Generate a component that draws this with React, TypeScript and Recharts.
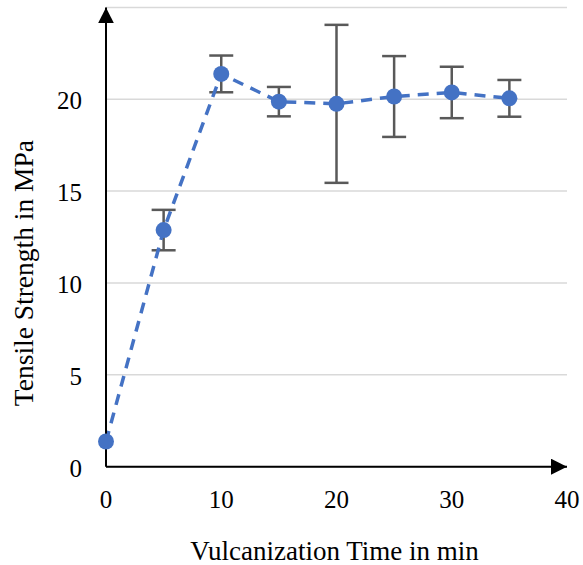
import React from "react";
import { LineChart, Line, XAxis, YAxis, CartesianGrid, ErrorBar, Label } from "recharts";

const times = [0, 5, 10, 15, 20, 25, 30, 35];
const strength = [1.37, 12.88, 21.38, 19.87, 19.75, 20.15, 20.37, 20.05];
const stdDev = [0, 1.1, 1.0, 0.8, 4.3, 2.2, 1.4, 1.0];
const xTicks = [0, 10, 20, 30, 40];
const yTicks = [0, 5, 10, 15, 20];

const data = times.map((t, i) => ({ time: t, strength: strength[i], err: stdDev[i] }));

const FONT = "'Liberation Serif', 'Times New Roman', serif";
const TICK_SIZE = 25;

const XTick = (props: any) => {
  const { x, y, payload } = props;
  return (
    <text x={x} y={y} dy={18} textAnchor="middle" fontFamily={FONT} fontSize={TICK_SIZE} fill="#000">
      {payload.value}
    </text>
  );
};

const YTick = (props: any) => {
  const { x, y, payload } = props;
  return (
    <text x={x} y={y} dy={10} textAnchor="end" fontFamily={FONT} fontSize={TICK_SIZE} fill="#000">
      {payload.value}
    </text>
  );
};

const YTitle = (props: any) => {
  const vb = props.viewBox || {};
  return (
    <text
      x={0}
      y={0}
      transform={`translate(${vb.x + 33}, ${vb.y + vb.height / 2 + 36}) rotate(-90)`}
      textAnchor="middle"
      fontFamily={FONT}
      fontSize={27.5}
      fill="#000"
    >
      Tensile Strength in MPa
    </text>
  );
};

const XTitle = (props: any) => {
  const vb = props.viewBox || {};
  return (
    <text
      x={vb.x + vb.width / 2 - 2}
      y={vb.y + vb.height - 5}
      textAnchor="middle"
      fontFamily={FONT}
      fontSize={27}
      fill="#000"
    >
      Vulcanization Time in min
    </text>
  );
};

export default function App() {
  return (
    <div style={{ position: "absolute", left: 0, top: 0, fontFamily: FONT }}>
      <LineChart
        width={583}
        height={565}
        data={data}
        margin={{ top: 7.4, right: 16, bottom: 0, left: 0 }}
      >
        <defs>
          <marker
            id="arrowHead"
            viewBox="0 0 10 10"
            refX="10"
            refY="5"
            markerUnits="userSpaceOnUse"
            markerWidth="16"
            markerHeight="16"
            orient="auto-start-reverse"
          >
            <path d="M0,0 L10,5 L0,10 z" fill="#000" />
          </marker>
        </defs>
        <CartesianGrid vertical={false} stroke="#D9D9D9" strokeWidth={1.5} />
        <XAxis
          dataKey="time"
          type="number"
          domain={[0, 40]}
          ticks={xTicks}
          height={98.3}
          tickLine={false}
          tickSize={0}
          tickMargin={23}
          axisLine={{ stroke: "#000", strokeWidth: 2, markerEnd: "url(#arrowHead)" }}
          tick={<XTick />}
          interval={0}
        >
          <Label content={<XTitle />} />
        </XAxis>
        <YAxis
          type="number"
          domain={[0, 25]}
          ticks={yTicks}
          width={106}
          tickLine={false}
          tickSize={0}
          tickMargin={24}
          axisLine={{ stroke: "#000", strokeWidth: 2, markerStart: "url(#arrowHead)" }}
          tick={<YTick />}
          interval={0}
        >
          <Label content={<YTitle />} />
        </YAxis>
        <Line
          dataKey="strength"
          stroke="#4472C4"
          strokeWidth={3.5}
          strokeDasharray="11 8"
          dot={{ r: 8, fill: "#4472C4", stroke: "#4472C4", strokeWidth: 0 }}
          activeDot={false}
          isAnimationActive={false}
        >
          <ErrorBar dataKey="err" direction="y" stroke="#595959" strokeWidth={2.5} width={12} />
        </Line>
      </LineChart>
    </div>
  );
}
